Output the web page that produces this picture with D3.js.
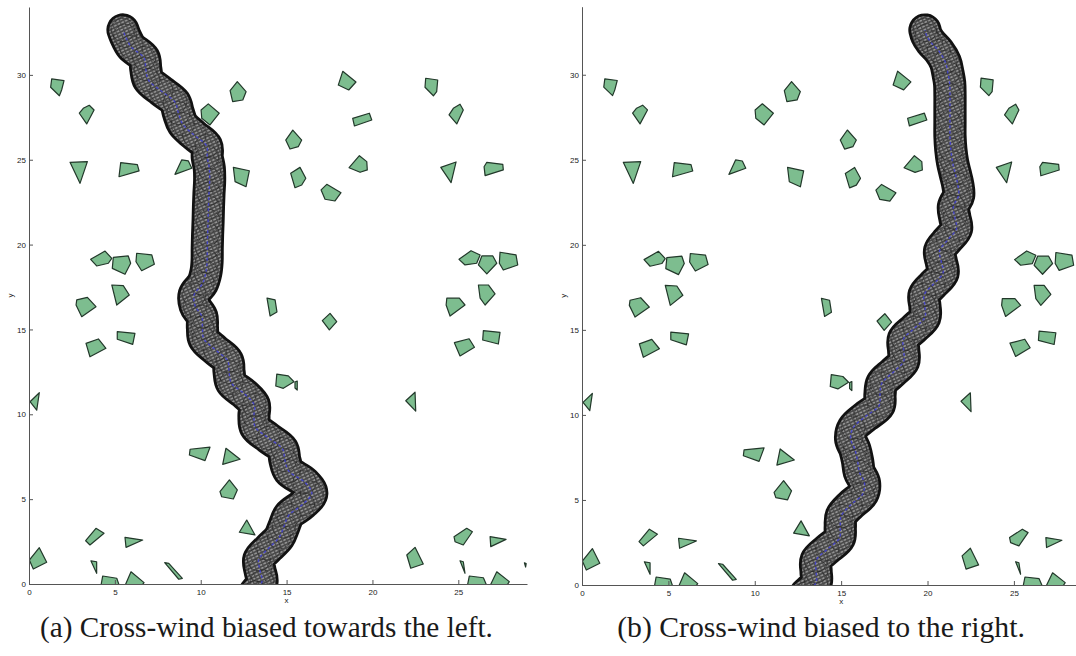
<!DOCTYPE html>
<html>
<head>
<meta charset="utf-8">
<script src="https://cdn.jsdelivr.net/npm/d3@7"></script>
<style>
  body { margin: 0; background: #fff; }
  svg { display: block; }
</style>
</head>
<body>
<svg id="fig" width="1076" height="656"></svg>
<script>
// Obstacle polygons (x, y vertices in map units), shared by both runs.
const obstacles = [
  [[1.32,29.76],[2.04,29.66],[1.90,29.11],[1.77,28.77],[1.26,29.27]],
  [[3.51,28.21],[3.79,27.93],[3.36,27.11],[2.93,27.74],[3.16,28.03]],
  [[2.39,24.85],[3.40,24.89],[2.97,23.61]],
  [[5.34,24.83],[6.31,24.71],[6.41,24.34],[5.24,24.00]],
  [[8.89,24.99],[9.28,24.93],[9.48,24.50],[8.50,24.14]],
  [[10.44,28.29],[11.08,27.74],[10.54,27.05],[10.06,27.44],[10.02,27.93]],
  [[12.13,29.60],[12.64,29.01],[12.45,28.52],[11.86,28.42],[11.71,29.07]],
  [[11.90,24.55],[12.83,24.35],[12.64,23.41],[12.00,23.71]],
  [[15.36,26.75],[15.88,26.16],[15.68,25.77],[15.20,25.63],[14.95,26.16]],
  [[15.78,24.55],[16.12,23.91],[15.88,23.51],[15.49,23.35],[15.24,24.20]],
  [[17.34,23.55],[18.17,23.06],[17.82,22.57],[17.24,22.67],[17.01,23.22]],
  [[18.27,30.21],[19.04,29.58],[18.62,29.11],[18.01,29.40]],
  [[18.85,27.44],[19.82,27.74],[19.96,27.34],[18.95,26.99]],
  [[19.24,25.24],[19.67,24.89],[19.70,24.40],[19.28,24.26],[18.64,24.53]],
  [[23.10,29.80],[23.80,29.70],[23.74,29.01],[23.55,28.77],[23.06,29.27]],
  [[25.10,28.27],[25.29,27.93],[24.91,27.11],[24.46,27.64],[24.71,28.03]],
  [[23.98,24.55],[24.87,24.87],[24.58,23.65]],
  [[26.66,24.85],[27.59,24.73],[27.62,24.40],[26.56,24.06],[26.50,24.59]],
  [[3.59,19.13],[4.43,19.62],[4.82,19.19],[4.62,18.90],[3.94,18.74]],
  [[4.91,19.25],[5.78,19.33],[5.92,18.90],[5.59,18.25],[4.85,18.60]],
  [[6.27,19.49],[7.15,19.39],[7.30,18.84],[6.56,18.46],[6.23,18.99]],
  [[2.78,16.74],[3.40,16.89],[3.90,16.34],[3.07,15.75],[2.74,16.44]],
  [[4.82,17.62],[5.49,17.58],[5.84,17.03],[5.11,16.44]],
  [[3.32,14.18],[4.04,14.44],[4.48,13.89],[3.55,13.39]],
  [[5.14,14.87],[6.17,14.77],[6.04,14.12],[5.14,14.42]],
  [[13.86,16.85],[14.33,16.74],[14.44,16.03],[14.04,15.79]],
  [[17.53,15.95],[17.92,15.46],[17.49,14.97],[17.08,15.52]],
  [[14.43,12.37],[15.10,12.26],[15.43,11.92],[14.81,11.53],[14.37,11.67]],
  [[15.49,11.90],[15.62,11.96],[15.62,11.43],[15.49,11.55]],
  [[0.60,11.27],[0.45,10.25],[0.06,10.74]],
  [[22.48,11.30],[22.52,10.19],[21.94,10.80]],
  [[25.74,19.64],[26.27,19.39],[26.07,18.90],[25.39,18.80],[25.04,19.13]],
  [[26.37,19.33],[27.01,19.33],[27.24,18.90],[26.66,18.27],[26.17,18.80]],
  [[27.43,19.55],[28.36,19.39],[28.46,18.80],[27.62,18.50],[27.39,18.90]],
  [[24.33,16.84],[25.06,16.84],[25.39,16.44],[24.52,15.79],[24.29,16.44]],
  [[26.17,17.62],[26.75,17.62],[27.14,17.09],[26.56,16.44],[26.27,16.84]],
  [[24.77,14.22],[25.63,14.45],[25.94,13.95],[25.10,13.44]],
  [[26.46,14.93],[27.43,14.83],[27.33,14.14],[26.42,14.38]],
  [[9.38,7.94],[10.54,8.06],[10.25,7.27],[9.34,7.60]],
  [[11.47,8.00],[12.29,7.35],[11.28,7.05]],
  [[11.67,6.13],[12.13,5.54],[11.90,5.01],[11.22,5.14],[11.12,5.44]],
  [[12.68,3.77],[13.16,2.89],[12.25,3.05]],
  [[3.90,3.28],[4.37,2.99],[3.55,2.30],[3.30,2.55]],
  [[5.59,2.75],[6.62,2.59],[5.65,2.16]],
  [[0.60,2.14],[1.03,1.28],[0.25,0.88],[0.02,1.41]],
  [[3.61,1.36],[3.94,1.31],[3.94,0.63]],
  [[4.29,0.47],[5.11,0.34],[5.26,-0.10],[4.19,-0.10]],
  [[5.94,0.72],[6.70,0.08],[6.56,-0.10],[5.59,-0.10]],
  [[7.90,1.26],[8.14,1.22],[8.93,0.33],[8.72,0.28]],
  [[22.48,2.16],[22.96,1.18],[22.23,0.93],[22.00,1.71]],
  [[25.49,3.28],[25.82,3.08],[25.29,2.30],[24.81,2.49],[24.75,2.79]],
  [[26.85,2.79],[27.78,2.63],[26.89,2.20]],
  [[25.10,1.37],[25.29,1.31],[25.39,0.63]],
  [[25.64,0.47],[26.46,0.37],[26.66,-0.10],[25.53,-0.10]],
  [[27.24,0.72],[27.97,0.14],[27.82,-0.10],[26.85,-0.10]],
  [[28.85,1.25],[28.95,1.20],[28.92,1.00]]
];

// Swept path centres, run (a): wind pushing towards the left.
const pathLeft = [
  [13.15,-0.50],[13.57,0.15],[13.45,0.80],[13.38,1.45],[13.95,2.10],[14.57,2.75],
  [14.85,3.40],[15.13,4.05],[15.95,4.70],[16.47,5.35],[16.05,6.00],[15.13,6.65],
  [14.90,7.30],[14.77,7.95],[13.95,8.60],[13.18,9.25],[13.10,9.90],[13.12,10.55],
  [12.55,11.20],[11.78,11.85],[11.65,12.50],[11.57,13.15],[10.85,13.80],[10.18,14.45],
  [10.10,15.10],[10.07,15.75],[9.67,16.40],[9.62,17.05],[10.10,17.70],[10.30,18.35],
  [10.37,19.00],[10.38,19.80],[10.40,20.60],[10.43,21.40],[10.45,22.20],[10.48,23.00],
  [10.52,23.80],[10.50,24.50],[10.38,25.15],[10.35,25.80],[9.62,26.45],[8.95,27.10],
  [8.70,27.75],[8.50,28.40],[7.70,29.05],[6.95,29.70],[6.80,30.35],[6.70,31.00],
  [5.95,31.65],[5.60,32.30],[5.47,32.65]
];

// Swept path centres, run (b): wind pushing towards the right.
const pathRight = [
  [12.96,-0.50],[13.55,0.15],[13.55,0.80],[13.55,1.45],[14.20,2.10],[14.90,2.75],
  [14.95,3.40],[15.00,4.05],[15.55,4.70],[16.25,5.35],[16.35,6.00],[16.05,6.65],
  [15.95,7.30],[15.80,7.95],[15.55,8.60],[15.70,9.25],[16.40,9.90],[17.20,10.55],
  [17.25,11.20],[17.35,11.85],[18.00,12.50],[18.62,13.15],[18.62,13.80],[18.60,14.45],
  [19.25,15.10],[19.85,15.75],[19.85,16.40],[19.80,17.05],[20.35,17.70],[20.90,18.35],
  [20.80,19.00],[20.70,19.65],[21.18,20.30],[21.68,20.95],[21.58,21.60],[21.50,22.25],
  [21.80,22.90],[21.75,23.55],[21.60,24.20],[21.45,24.85],[21.35,25.60],[21.30,26.40],
  [21.30,27.20],[21.30,28.00],[21.30,28.80],[21.28,29.50],[21.18,30.10],[21.03,30.75],
  [20.65,31.40],[20.20,31.90],[19.95,32.30],[19.85,32.63]
];

const xTicks = [0, 5, 10, 15, 20, 25];
const yTicks = [0, 5, 10, 15, 20, 25, 30];
const xDomain = [0, 29];
const yDomain = [0, 34];
const captions = [
  "(a) Cross-wind biased towards the left.",
  "(b) Cross-wind biased to the right."
];

const svg = d3.select("#fig");
const defs = svg.append("defs");

// dense dark texture with light dashes for the swept band
const hatch = defs.append("pattern")
  .attr("id", "hatch")
  .attr("patternUnits", "userSpaceOnUse")
  .attr("width", 4).attr("height", 3.2)
  .attr("patternTransform", "rotate(-25)");
hatch.append("rect").attr("width", 4).attr("height", 3.2).attr("fill", "#4a4a4a");
hatch.append("line")
  .attr("x1", 0.4).attr("x2", 3.0).attr("y1", 1.6).attr("y2", 1.6)
  .attr("stroke", "#b4b4b4").attr("stroke-width", 1.1);

const panels = [
  { path: pathLeft,  left: 29,  right: 527,  bottom: 584, top: 7,   capX: 266.5, capW: 453 },
  { path: pathRight, left: 582, right: 1083, bottom: 585, top: 6.7, capX: 821,   capW: 408 }
];

panels.forEach((p, i) => {
  const x = d3.scaleLinear().domain(xDomain).range([p.left, p.right]);
  const y = d3.scaleLinear().domain(yDomain).range([p.bottom, p.top]);
  const g = svg.append("g");

  const clipId = "clip" + i;
  defs.append("clipPath").attr("id", clipId)
    .append("rect")
    .attr("x", x(0)).attr("y", y(yDomain[1]))
    .attr("width", x(xDomain[1]) - x(0))
    .attr("height", y(0) - y(yDomain[1]));

  const plot = g.append("g").attr("clip-path", `url(#${clipId})`);

  // obstacles
  plot.append("g").selectAll("polygon")
    .data(obstacles)
    .join("polygon")
    .attr("points", d => d.map(v => [x(v[0]), y(v[1])].join(",")).join(" "))
    .attr("fill", "#7dbd8f")
    .attr("stroke", "#22382a")
    .attr("stroke-width", 1.2)
    .attr("stroke-linejoin", "round");

  // swept band along the path
  const r = x(0.8) - x(0);
  const edge = 2.8;
  const line = d3.line()
    .x(d => x(d[0])).y(d => y(d[1]))
    .curve(d3.curveCatmullRom.alpha(0.5));
  const band = plot.append("g");

  [{ c: "#121212", w: edge }, { c: "url(#hatch)", w: 0 }].forEach(layer => {
    band.append("path")
      .attr("d", line(p.path))
      .attr("fill", "none")
      .attr("stroke", layer.c)
      .attr("stroke-width", 2 * (r + layer.w))
      .attr("stroke-linecap", "round")
      .attr("stroke-linejoin", "round");
  });

  // footprint outlines at each pose
  band.append("g").selectAll("circle")
    .data(p.path)
    .join("circle")
    .attr("cx", d => x(d[0])).attr("cy", d => y(d[1]))
    .attr("r", r * 0.85)
    .attr("fill", "none")
    .attr("stroke", "#161616")
    .attr("stroke-opacity", 0.55)
    .attr("stroke-width", 0.8);

  // centre line of the path
  band.append("path")
    .attr("d", line(p.path))
    .attr("fill", "none")
    .attr("stroke", "#4141d6")
    .attr("stroke-width", 1.4)
    .attr("stroke-dasharray", "3,2.5")
    .attr("stroke-opacity", 0.85);

  // axes
  const xAxis = g.append("g")
    .attr("transform", `translate(0,${y(0)})`)
    .call(d3.axisBottom(x).tickValues(xTicks).tickSizeInner(-4).tickSizeOuter(0).tickPadding(5));
  const yAxis = g.append("g")
    .attr("transform", `translate(${x(0)},0)`)
    .call(d3.axisLeft(y).tickValues(yTicks).tickSizeInner(-4).tickSizeOuter(0).tickPadding(3));
  [xAxis, yAxis].forEach(a => {
    a.select(".domain").attr("stroke", "#555").attr("stroke-width", 1);
    a.selectAll(".tick line").attr("stroke", "#555");
    a.selectAll(".tick text")
      .attr("font-family", "Liberation Sans, Arial, sans-serif")
      .attr("font-size", 8)
      .attr("fill", "#222");
  });

  g.append("text")
    .attr("x", x(15)).attr("y", y(0) + 19)
    .attr("text-anchor", "middle")
    .attr("font-family", "Liberation Sans, Arial, sans-serif")
    .attr("font-size", 8).attr("fill", "#222")
    .text("x");
  g.append("text")
    .attr("transform", `translate(${x(0) - 16},${y(17)}) rotate(-90)`)
    .attr("text-anchor", "middle")
    .attr("font-family", "Liberation Sans, Arial, sans-serif")
    .attr("font-size", 8).attr("fill", "#222")
    .text("y");

  // caption, sized to its column width
  const cap = svg.append("text")
    .attr("x", p.capX).attr("y", 637)
    .attr("text-anchor", "middle")
    .attr("font-family", "Liberation Serif, Times New Roman, serif")
    .attr("font-size", 24)
    .attr("fill", "#1a1a1a")
    .text(captions[i]);
  const len = cap.node().getComputedTextLength();
  cap.attr("font-size", 24 * p.capW / len);
});
</script>
</body>
</html>
